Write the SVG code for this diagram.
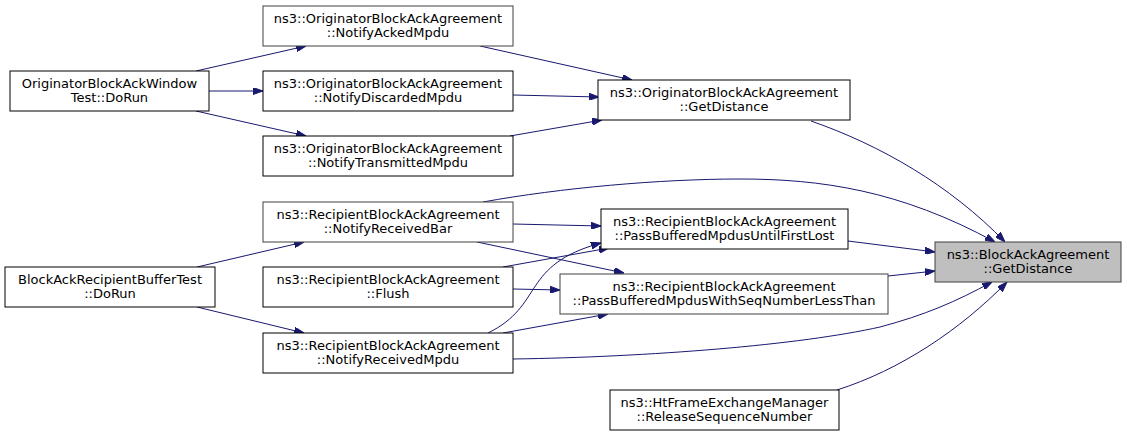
<svg xmlns="http://www.w3.org/2000/svg" width="1127" height="437" viewBox="0 0 1127 437">
<style>
  .node rect { fill: #ffffff; stroke: #000000; stroke-width: 1; }
  .node.grey rect { stroke: #404040; }
  .node.root rect { fill: #bfbfbf; stroke: #404040; }
  .node text { font-family: "DejaVu Sans", sans-serif; font-size: 13px; fill: #000000; text-anchor: middle; }
  .edges path { fill: none; stroke: #191970; stroke-width: 1; marker-end: url(#arrow); }
</style>
<defs>
  <marker id="arrow" viewBox="0 0 10 7" markerWidth="10" markerHeight="7" refX="10" refY="3.5" orient="auto" markerUnits="userSpaceOnUse">
    <path d="M0,0 L10,3.5 L0,7 z" fill="#191970" stroke="#191970" stroke-width="1"/>
  </marker>
</defs>
<rect width="1127" height="437" fill="#ffffff"/>
<g class="edges">
  <path d="M196,71 L306,46"/>
  <path d="M209,91 L263,91"/>
  <path d="M196,111 L306,136"/>
  <path d="M480,46 L632,80"/>
  <path d="M513,95 L599,97"/>
  <path d="M510,136 L602,120"/>
  <path d="M811,121 C880,145 950,185 1005,242"/>
  <path d="M483,202 C560,188 660,179 740,179 C820,179 900,190 995,242"/>
  <path d="M513,224 L601,226"/>
  <path d="M477,242 L624,273"/>
  <path d="M503,267 L609,248"/>
  <path d="M513,289 L560,290"/>
  <path d="M488,333 C545,305 520,265 601,243"/>
  <path d="M503,333 L608,314"/>
  <path d="M513,359 C650,357 800,345 880,327 C925,315 955,302 992,282"/>
  <path d="M837,390 C900,370 960,330 1007,282"/>
  <path d="M848,241 L935,252"/>
  <path d="M888,276 L935,271"/>
  <path d="M197,267 L304,242"/>
  <path d="M197,307 L304,333"/>
</g>
<g id="n_obawt" class="node">
  <rect x="10" y="71" width="199" height="40"/>
  <text x="109.5" y="87.5">OriginatorBlockAckWindow</text>
  <text x="109.5" y="102">Test::DoRun</text>
</g>
<g id="n_acked" class="node grey">
  <rect x="263" y="6" width="250" height="40"/>
  <text x="388" y="22.5">ns3::OriginatorBlockAckAgreement</text>
  <text x="388" y="37">::NotifyAckedMpdu</text>
</g>
<g id="n_discarded" class="node">
  <rect x="263" y="71" width="250" height="40"/>
  <text x="388" y="87.5">ns3::OriginatorBlockAckAgreement</text>
  <text x="388" y="102">::NotifyDiscardedMpdu</text>
</g>
<g id="n_transmitted" class="node">
  <rect x="263" y="136" width="250" height="40"/>
  <text x="388" y="152.5">ns3::OriginatorBlockAckAgreement</text>
  <text x="388" y="167">::NotifyTransmittedMpdu</text>
</g>
<g id="n_obaa_dist" class="node">
  <rect x="598" y="80" width="252" height="40"/>
  <text x="724" y="96.5">ns3::OriginatorBlockAckAgreement</text>
  <text x="724" y="111">::GetDistance</text>
</g>
<g id="n_bar" class="node grey">
  <rect x="263" y="202" width="250" height="40"/>
  <text x="388" y="218.5">ns3::RecipientBlockAckAgreement</text>
  <text x="388" y="233">::NotifyReceivedBar</text>
</g>
<g id="n_flush" class="node">
  <rect x="263" y="267" width="250" height="40"/>
  <text x="388" y="283.5">ns3::RecipientBlockAckAgreement</text>
  <text x="388" y="298">::Flush</text>
</g>
<g id="n_rxmpdu" class="node">
  <rect x="263" y="333" width="250" height="40"/>
  <text x="388" y="349.5">ns3::RecipientBlockAckAgreement</text>
  <text x="388" y="364">::NotifyReceivedMpdu</text>
</g>
<g id="n_barbt" class="node">
  <rect x="5" y="267" width="210" height="40"/>
  <text x="110" y="283.5">BlockAckRecipientBufferTest</text>
  <text x="110" y="298">::DoRun</text>
</g>
<g id="n_firstlost" class="node">
  <rect x="601" y="209" width="247" height="40"/>
  <text x="724.5" y="225.5">ns3::RecipientBlockAckAgreement</text>
  <text x="724.5" y="240">::PassBufferedMpdusUntilFirstLost</text>
</g>
<g id="n_seqless" class="node grey">
  <rect x="560" y="274" width="328" height="40"/>
  <text x="724" y="290.5">ns3::RecipientBlockAckAgreement</text>
  <text x="724" y="305">::PassBufferedMpdusWithSeqNumberLessThan</text>
</g>
<g id="n_release" class="node">
  <rect x="610" y="390" width="229" height="40"/>
  <text x="724.5" y="406.5">ns3::HtFrameExchangeManager</text>
  <text x="724.5" y="421">::ReleaseSequenceNumber</text>
</g>
<g id="n_baa_dist" class="node root">
  <rect x="935" y="242" width="186" height="40"/>
  <text x="1028" y="258.5">ns3::BlockAckAgreement</text>
  <text x="1028" y="273">::GetDistance</text>
</g>
</svg>
